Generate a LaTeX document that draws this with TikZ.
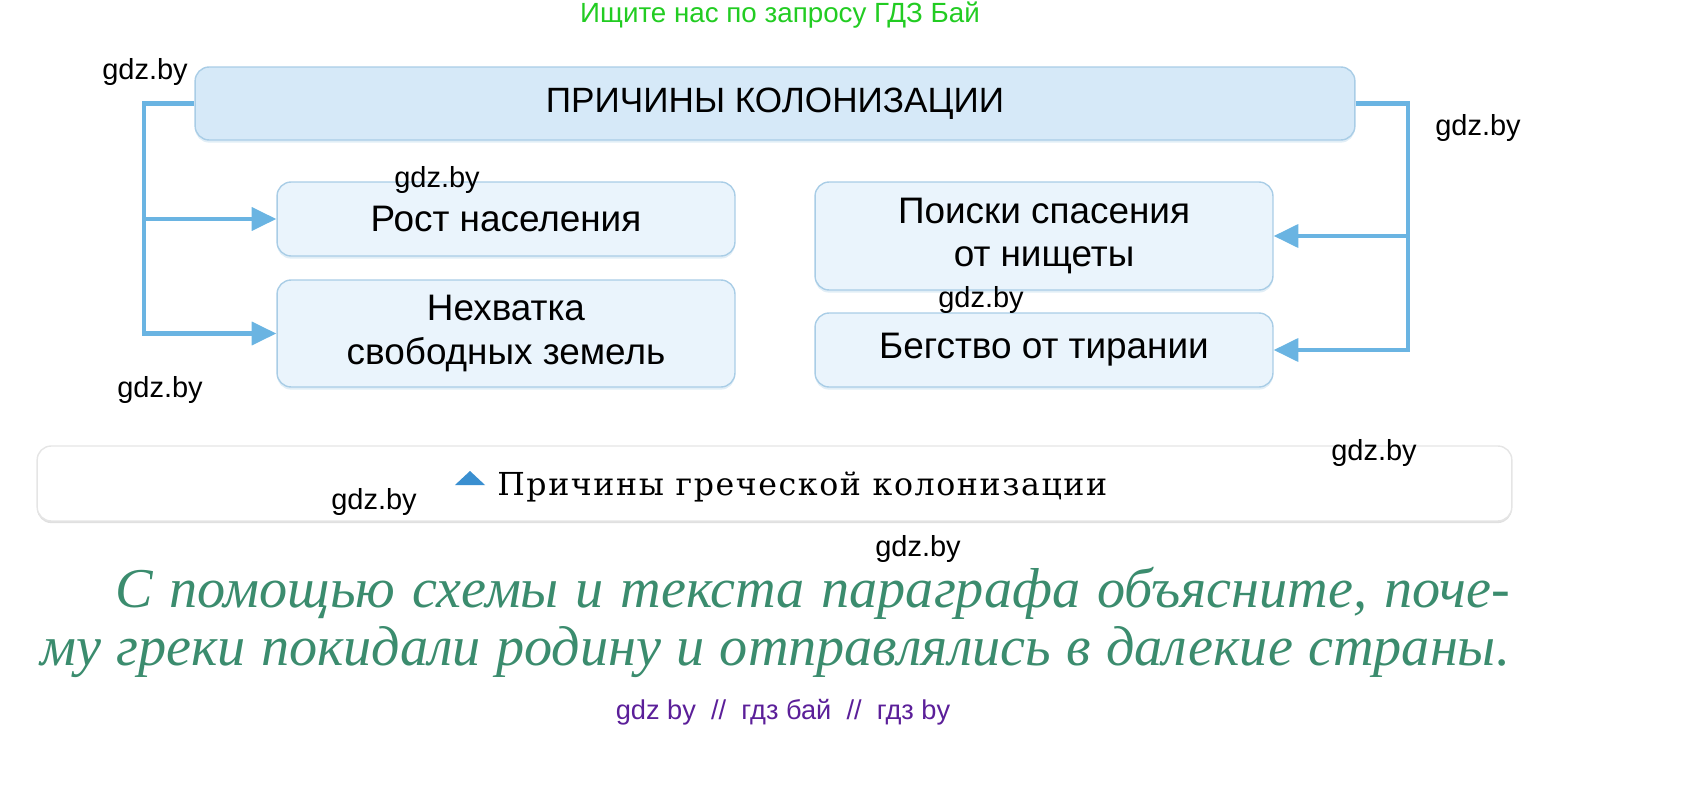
\documentclass[tikz,border=0pt]{standalone}
\usepackage{fontspec}
\setmainfont{Liberation Sans}
\newfontfamily\capfont[LetterSpace=5]{DejaVu Serif}
\newfontfamily\taskfont{Liberation Serif}
\usetikzlibrary{arrows.meta,shadows}
\definecolor{titlefill}{HTML}{D6E9F8}
\definecolor{causefill}{HTML}{EAF4FC}
\definecolor{boxline}{HTML}{A9CDE6}
\definecolor{linkblue}{HTML}{6AB4E2}
\definecolor{triblue}{HTML}{3A8FD0}
\definecolor{taskgreen}{HTML}{3B8C6E}
\definecolor{adgreen}{HTML}{22CC22}
\definecolor{adpurple}{HTML}{5B1F99}

\begin{document}
\begin{tikzpicture}[x=0.02cm, y=-0.02cm,
  cause/.style={draw=boxline, fill=causefill, rounded corners=8pt, line width=0.8pt,
    minimum width=9.16cm, align=center, font=\fontsize{21}{25}\selectfont,
    drop shadow={shadow xshift=0pt, shadow yshift=-1.5pt, opacity=0.35, fill=boxline}},
  link/.style={draw=linkblue, line width=2.3pt},
  arr/.style={link, -{Triangle[length=14pt,width=13pt]}},
  wm/.style={font=\fontsize{16.5}{16.5}\selectfont}]
\useasboundingbox (0,0) rectangle (1693,787);
% Blocs
\node[draw=boxline, fill=titlefill, rounded corners=8pt, line width=0.8pt,
  minimum width=23.2cm, minimum height=1.46cm, font=\fontsize{20}{20}\selectfont,
  drop shadow={shadow xshift=0pt, shadow yshift=-1.5pt, opacity=0.35, fill=boxline}]
  (titre) at (775,103.5) {ПРИЧИНЫ КОЛОНИЗАЦИИ};
\node[cause, minimum height=1.48cm] (rost) at (506,219) {Рост населения};
\node[cause, minimum height=2.14cm] (nehv) at (506,333.5) {Нехватка\\свободных земель};
\node[cause, minimum height=2.16cm] (poisk) at (1044,236) {Поиски спасения\\от нищеты};
\node[cause, minimum height=1.48cm] (beg) at (1044,350) {Бегство от тирании};
% Fleches
\draw[arr] (titre.west) -- ++(-50,0) coordinate (g) |- (nehv.west);
\draw[arr] (g |- rost.west) -- (rost.west);
\draw[arr] (titre.east) -- ++(52,0) coordinate (d) |- (beg.east);
\draw[arr] (d |- poisk.east) -- (poisk.east);
% Legende
\node[draw=black!10, fill=white, rounded corners=8pt, line width=0.8pt,
  minimum width=29.5cm, minimum height=1.5cm,
  drop shadow={shadow xshift=0pt, shadow yshift=-1.2pt, opacity=0.12, fill=black}]
  (legende) at (774.5,483.5) {};
\fill[triblue] (455,485) -- (485,485) -- (470,471) -- cycle;
\node[anchor=base west, inner sep=0pt, font=\capfont\fontsize{18}{18}\selectfont]
  (legtexte) at (497,495) {Причины греческой колонизации};
% Question
\node[anchor=base west, inner sep=0pt, text=taskgreen, font=\taskfont\itshape\fontsize{32}{32}\selectfont]
  (q1) at (115,607) {\makebox[27.9cm][s]{С помощью схемы и текста параграфа объясните, поче-}};
\node[anchor=base west, inner sep=0pt, text=taskgreen, font=\taskfont\itshape\fontsize{32}{32}\selectfont]
  (q2) at (40,665) {\makebox[29.4cm][s]{му греки покидали родину и отправлялись в далекие страны.}};
% Filigranes
\node[text=adgreen, font=\fontsize{15.8}{16}\selectfont] (pub) at (780,15) {Ищите нас по запросу ГДЗ Бай};
\node[text=adpurple, font=\fontsize{15.5}{15.5}\selectfont] (pied) at (783,712) {gdz by \ // \ гдз бай \ // \ гдз by};
\node[wm] (w1) at (145,72) {gdz.by};
\node[wm] (w2) at (1478,128) {gdz.by};
\node[wm] (w3) at (437,180) {gdz.by};
\node[wm] (w4) at (981,300) {gdz.by};
\node[wm] (w5) at (160,390) {gdz.by};
\node[wm] (w6) at (1374,453) {gdz.by};
\node[wm] (w7) at (374,502) {gdz.by};
\node[wm] (w8) at (918,549) {gdz.by};
\end{tikzpicture}
\end{document}
